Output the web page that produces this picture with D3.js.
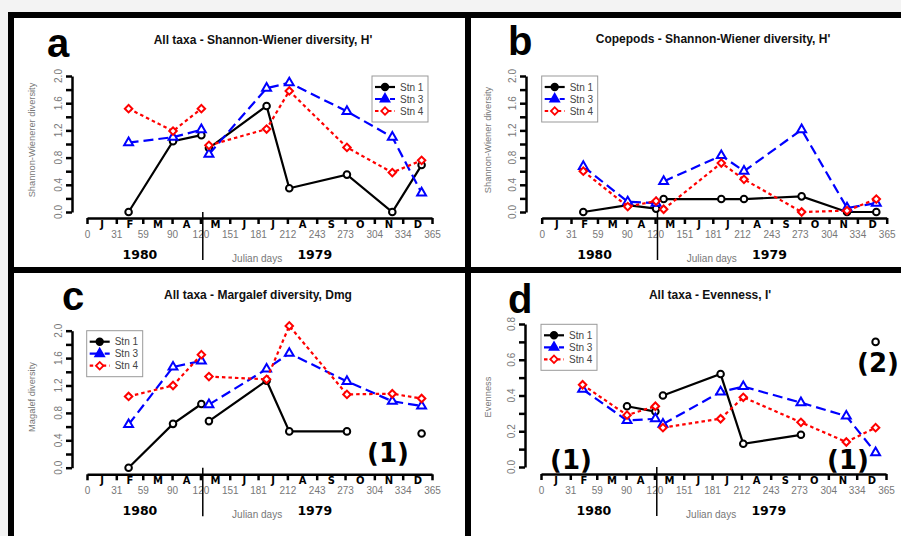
<!DOCTYPE html>
<html>
<head>
<meta charset="utf-8">
<script src="https://cdn.jsdelivr.net/npm/d3@7"></script>
<style>
  body { margin: 0; background: #f3f3f3; }
  svg { display: block; }
</style>
</head>
<body>
<svg id="fig" width="901" height="536"></svg>
<script>
// sampling dates (julian day) shared by all panels
const days = [44, 91, 121, 129, 190, 214, 275, 323, 354];
const splitDay = 122.5; // 1980 samples left of this, 1979 samples right
const monthTicks = [0, 31, 59, 90, 120, 151, 181, 212, 243, 273, 304, 334, 365];
const monthLetters = ["J", "F", "M", "A", "M", "J", "J", "A", "S", "O", "N", "D"];
const stations = ["Stn 1", "Stn 3", "Stn 4"];

// a - all taxa, Shannon-Wiener
const aStn1 = [0.0, 1.04, 1.13, 0.94, 1.56, 0.35, 0.55, 0.0, 0.69];
const aStn3 = [1.02, 1.10, 1.21, 0.85, 1.82, 1.90, 1.48, 1.10, 0.28];
const aStn4 = [1.52, 1.19, 1.52, 0.98, 1.22, 1.78, 0.95, 0.58, 0.76];
// b - copepods, Shannon-Wiener
const bStn1 = [0.0, 0.10, 0.05, 0.19, 0.19, 0.19, 0.23, 0.0, 0.0];
const bStn3 = [0.67, 0.15, 0.13, 0.45, 0.83, 0.60, 1.21, 0.06, 0.13];
const bStn4 = [0.60, 0.08, 0.16, 0.04, 0.72, 0.48, 0.0, 0.02, 0.19];
// c - all taxa, Margalef
const cStn1 = [0.0, 0.64, 0.93, 0.68, 1.27, 0.53, 0.53, null, 0.50];
const cStn3 = [0.63, 1.47, 1.56, 0.92, 1.44, 1.67, 1.26, 0.97, 0.90];
const cStn4 = [1.04, 1.20, 1.65, 1.33, 1.29, 2.07, 1.07, 1.08, 1.01];
// d - all taxa, evenness
const dStn1 = [null, 0.34, 0.31, 0.40, 0.52, 0.13, 0.18, null, 0.70];
const dStn3 = [0.435, 0.26, 0.27, 0.24, 0.42, 0.45, 0.36, 0.285, 0.08];
const dStn4 = [0.46, 0.29, 0.34, 0.22, 0.27, 0.39, 0.25, 0.14, 0.22];

const titles = ["All taxa - Shannon-Wiener diversity, H'", "Copepods - Shannon-Wiener diversity, H'",
                "All taxa - Margalef diversity, Dmg", "All taxa - Evenness, I'"];
const yTitles = ["Shannon-Wienerer diversity", "Shannon-Wiener diversity", "Magalef diversity", "Evenness"];
const letters = ["a", "b", "c", "d"];

// layout of each panel (pixels)
const panels = [
  { x0: 87, x1: 432, axisY: 218, yB: 212, yT: 76, yAxisX: 72, yMax: 2.0, step: 0.2, lab: 0.4,
    letterX: 47, letterY: 57, titleX: 263, titleY: 44, legX: 372, legY: 76, yTitleX: 32, yTitleY: 140,
    data: [aStn1, aStn3, aStn4], notes: [] },
  { x0: 541.7, x1: 886.7, axisY: 218, yB: 212, yT: 76, yAxisX: 526, yMax: 2.0, step: 0.2, lab: 0.4,
    letterX: 508, letterY: 55, titleX: 713, titleY: 43, legX: 541.7, legY: 76, yTitleX: 487.7, yTitleY: 140,
    data: [bStn1, bStn3, bStn4], notes: [] },
  { x0: 87, x1: 432, axisY: 474.3, yB: 467.7, yT: 330.7, yAxisX: 72, yMax: 2.0, step: 0.2, lab: 0.4,
    letterX: 62, letterY: 310, titleX: 258, titleY: 299, legX: 86.7, legY: 330.7, yTitleX: 32, yTitleY: 397,
    data: [cStn1, cStn3, cStn4], notes: [{ t: "(1)", x: 388, y: 462 }] },
  { x0: 541, x1: 886, axisY: 474, yB: 467, yT: 324, yAxisX: 525, yMax: 0.8, step: 0.1, lab: 0.2,
    letterX: 508, letterY: 313, titleX: 710, titleY: 299, legX: 541, legY: 324.3, yTitleX: 487.7, yTitleY: 397,
    data: [dStn1, dStn3, dStn4],
    notes: [{ t: "(1)", x: 571, y: 469 }, { t: "(1)", x: 848, y: 469 }, { t: "(2)", x: 878, y: 372 }] }
];

const styles = [
  { color: "#000000", dash: null, sym: d3.symbolCircle, size: 34, rot: 0 },
  { color: "#0000ff", dash: "10,5", sym: d3.symbolTriangle, size: 34, rot: 0 },
  { color: "#ff0000", dash: "3.5,3", sym: d3.symbolSquare, size: 28, rot: 45 }
];

const svg = d3.select("#fig");

// frame
svg.append("rect").attr("x", 11).attr("y", 15).attr("width", 900).attr("height", 530)
  .attr("fill", "#fff").attr("stroke", "#000").attr("stroke-width", 6);
svg.append("line").attr("x1", 468).attr("x2", 468).attr("y1", 15).attr("y2", 540)
  .attr("stroke", "#000").attr("stroke-width", 6);
svg.append("line").attr("x1", 11).attr("x2", 901).attr("y1", 270).attr("y2", 270)
  .attr("stroke", "#000").attr("stroke-width", 6);

panels.forEach((p, k) => {
  const g = svg.append("g");
  const x = d3.scaleLinear().domain([0, 365]).range([p.x0, p.x1]);
  const y = d3.scaleLinear().domain([0, p.yMax]).range([p.yB, p.yT]);

  // y axis
  const yt = d3.range(0, p.yMax + 1e-9, p.step);
  g.append("g").attr("transform", `translate(${p.yAxisX},0)`)
    .call(d3.axisLeft(y).tickValues(yt).tickSize(6).tickSizeOuter(0).tickFormat(""))
    .call(a => a.selectAll("path,line").attr("stroke", "#000").attr("stroke-width", 2.5));
  const yl = d3.range(0, p.yMax + 1e-9, p.lab);
  g.selectAll(".ylab").data(yl).enter().append("text")
    .attr("transform", d => `translate(${p.yAxisX - 14},${y(d)}) rotate(-90)`)
    .attr("dy", "0.35em").attr("text-anchor", "middle")
    .attr("font-family", "Liberation Sans, Arial").attr("font-size", 10).attr("fill", "#777")
    .text(d => d.toFixed(1));
  g.append("text")
    .attr("transform", `translate(${p.yTitleX},${p.yTitleY}) rotate(-90)`)
    .attr("dy", "0.35em").attr("text-anchor", "middle")
    .attr("font-family", "Liberation Sans, Arial").attr("font-size", 9.3).attr("fill", "#777")
    .text(yTitles[k]);

  // x axis with month boundaries
  g.append("g").attr("transform", `translate(0,${p.axisY})`)
    .call(d3.axisBottom(x).tickValues(monthTicks).tickSize(6).tickSizeOuter(0).tickFormat(d3.format("d")))
    .call(a => a.selectAll("path,line").attr("stroke", "#000").attr("stroke-width", 2.5))
    .call(a => a.selectAll("text").attr("y", 13).attr("fill", "#777")
      .attr("font-family", "Liberation Sans, Arial").attr("font-size", 10));
  const mids = monthTicks.slice(0, 12).map((d, i) => (d + monthTicks[i + 1]) / 2);
  g.append("g").attr("transform", `translate(0,${p.axisY})`)
    .call(d3.axisBottom(x).tickValues(mids).tickSize(0).tickFormat((d, i) => monthLetters[i]))
    .call(a => a.select(".domain").remove())
    .call(a => a.selectAll("text").attr("y", 3).attr("fill", "#000").attr("font-weight", "bold")
      .attr("font-family", "DejaVu Sans").attr("font-size", 10));

  // year split
  g.append("line").attr("x1", x(splitDay)).attr("x2", x(splitDay))
    .attr("y1", y(0)).attr("y2", p.axisY + 42).attr("stroke", "#000").attr("stroke-width", 1.5);
  [["1980", 56], ["1979", 241]].forEach(([t, d]) => {
    g.append("text").attr("x", x(d)).attr("y", p.axisY + 41).attr("text-anchor", "middle")
      .attr("font-family", "DejaVu Sans").attr("font-weight", "bold").attr("font-size", 12.5).text(t);
  });
  g.append("text").attr("x", x(180)).attr("y", p.axisY + 44).attr("text-anchor", "middle")
    .attr("font-family", "Liberation Sans, Arial").attr("font-size", 10).attr("fill", "#777").text("Julian days");

  // title and letter
  g.append("text").attr("x", p.titleX).attr("y", p.titleY).attr("text-anchor", "middle")
    .attr("font-family", "Liberation Sans, Arial").attr("font-weight", "bold").attr("font-size", 12)
    .attr("fill", "#111").text(titles[k]);
  g.append("text").attr("x", p.letterX).attr("y", p.letterY)
    .attr("font-family", "Liberation Sans, Arial").attr("font-weight", "bold").attr("font-size", 40)
    .text(letters[k]);

  // series
  p.data.forEach((vals, s) => {
    const st = styles[s];
    const pts = days.map((d, i) => ({ day: d, v: vals[i] }));
    const line = d3.line().defined(d => d.v != null).x(d => x(d.day)).y(d => y(d.v));
    [pts.filter(d => d.day < splitDay), pts.filter(d => d.day > splitDay)].forEach(seg => {
      g.append("path").attr("d", line(seg)).attr("fill", "none")
        .attr("stroke", st.color).attr("stroke-width", 2.2)
        .attr("stroke-dasharray", st.dash);
    });
    g.selectAll(null).data(pts.filter(d => d.v != null)).enter().append("path")
      .attr("d", d3.symbol().type(st.sym).size(st.size))
      .attr("transform", d => `translate(${x(d.day)},${y(d.v)}) rotate(${st.rot})`)
      .attr("fill", "#fff").attr("stroke", st.color).attr("stroke-width", 2);
  });

  // legend
  const lg = g.append("g").attr("transform", `translate(${p.legX},${p.legY})`);
  lg.append("rect").attr("width", 56).attr("height", 46).attr("fill", "#fff")
    .attr("stroke", "#999").attr("stroke-width", 1);
  stations.forEach((name, s) => {
    const st = styles[s];
    const ly = 11 + s * 12;
    lg.append("line").attr("x1", 3).attr("x2", 23).attr("y1", ly).attr("y2", ly)
      .attr("stroke", st.color).attr("stroke-width", 2.2).attr("stroke-dasharray", st.dash);
    lg.append("path").attr("d", d3.symbol().type(st.sym).size(st.size))
      .attr("transform", `translate(13,${ly}) rotate(${st.rot})`)
      .attr("fill", s === 2 ? "#fff" : st.color).attr("stroke", st.color).attr("stroke-width", 1.8);
    lg.append("text").attr("x", 28).attr("y", ly).attr("dy", "0.35em")
      .attr("font-family", "Liberation Sans, Arial").attr("font-size", 10).attr("fill", "#444").text(name);
  });

  // annotations
  p.notes.forEach(n => {
    g.append("text").attr("x", n.x).attr("y", n.y).attr("text-anchor", "middle")
      .attr("font-family", "DejaVu Sans").attr("font-weight", "bold").attr("font-size", 26).text(n.t);
  });
});
</script>
</body>
</html>
